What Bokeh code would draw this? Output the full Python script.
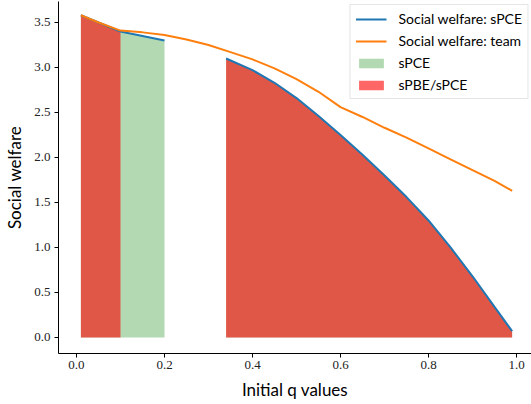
from bokeh.plotting import figure
from bokeh.models import Range1d, FixedTicker, PrintfTickFormatter, Legend, LegendItem
from bokeh.embed import file_html
from bokeh.resources import INLINE

# ---- data ----
q_team = [0.01, 0.05, 0.10, 0.15, 0.20, 0.25, 0.30, 0.35, 0.40, 0.45, 0.50,
          0.55, 0.60, 0.65, 0.70, 0.75, 0.80, 0.85, 0.90, 0.95, 0.99]
welfare_team = [3.58, 3.50, 3.41, 3.39, 3.36, 3.31, 3.25, 3.17, 3.09, 2.99, 2.87,
                2.73, 2.56, 2.45, 2.33, 2.22, 2.10, 1.98, 1.86, 1.74, 1.63]

q_spce_1 = [0.01, 0.05, 0.10, 0.15, 0.20]
welfare_spce_1 = [3.58, 3.50, 3.40, 3.35, 3.30]

q_spce_2 = [0.34, 0.40, 0.45, 0.50, 0.55, 0.60, 0.65, 0.70, 0.75, 0.80,
            0.85, 0.90, 0.95, 0.99]
welfare_spce_2 = [3.10, 2.97, 2.83, 2.66, 2.46, 2.25, 2.03, 1.80, 1.56, 1.30,
                  1.00, 0.68, 0.34, 0.07]

q_spbe_1 = [0.01, 0.05, 0.10]
welfare_spbe_1 = [3.58, 3.50, 3.40]
q_spbe_2 = q_spce_2
welfare_spbe_2 = welfare_spce_2

x_ticks = [0.0, 0.2, 0.4, 0.6, 0.8, 1.0]
y_ticks = [0.0, 0.5, 1.0, 1.5, 2.0, 2.5, 3.0, 3.5]

SANS = "Lato"
SERIF = "Liberation Serif"

p = figure(output_backend="svg", toolbar_location=None,
           frame_width=473, frame_height=352,
           min_border_left=58, min_border_right=0, min_border_top=1, min_border_bottom=50,
           x_range=Range1d(-0.0409, 1.034), y_range=Range1d(-0.178, 3.733),
           background_fill_color="white", border_fill_color="white")
p.outline_line_color = None
p.grid.visible = False

# fills
g1 = p.varea(x=q_spce_1, y1=[0] * len(q_spce_1), y2=welfare_spce_1,
             fill_color="green", fill_alpha=0.3)
g2 = p.varea(x=q_spce_2, y1=[0] * len(q_spce_2), y2=welfare_spce_2,
             fill_color="green", fill_alpha=0.3)
r1 = p.varea(x=q_spbe_1, y1=[0] * len(q_spbe_1), y2=welfare_spbe_1,
             fill_color="red", fill_alpha=0.6)
r2 = p.varea(x=q_spbe_2, y1=[0] * len(q_spbe_2), y2=welfare_spbe_2,
             fill_color="red", fill_alpha=0.6)

# lines
b1 = p.line(q_spce_1, welfare_spce_1, line_color="#1f77b4", line_width=2)
b2 = p.line(q_spce_2, welfare_spce_2, line_color="#1f77b4", line_width=2)
o1 = p.line(q_team, welfare_team, line_color="#ff7f0e", line_width=2)

# axes
for ax in (p.xaxis[0], p.yaxis[0]):
    ax.axis_line_color = "black"
    ax.axis_line_width = 1
    ax.major_tick_line_color = "black"
    ax.major_tick_out = 4
    ax.major_tick_in = 0
    ax.minor_tick_line_color = None
    ax.major_label_text_font = SERIF
    ax.major_label_text_font_size = "13px"
    ax.major_label_text_color = "#222222"
    ax.axis_label_text_font = SANS
    ax.axis_label_text_font_size = "17px"
    ax.axis_label_text_font_style = "normal"
    ax.axis_label_text_color = "black"
    ax.formatter = PrintfTickFormatter(format="%.1f")

p.xaxis[0].ticker = FixedTicker(ticks=x_ticks)
p.yaxis[0].ticker = FixedTicker(ticks=y_ticks)
p.xaxis[0].axis_label = "Initial q values"
p.yaxis[0].axis_label = "Social welfare"
p.xaxis[0].major_label_standoff = 3
p.xaxis[0].axis_label_standoff = 7
p.yaxis[0].major_label_standoff = 4
p.yaxis[0].axis_label_standoff = 6

legend = Legend(items=[
    LegendItem(label="Social welfare: sPCE", renderers=[b1]),
    LegendItem(label="Social welfare: team", renderers=[o1]),
    LegendItem(label="sPCE", renderers=[g1]),
    LegendItem(label="sPBE/sPCE", renderers=[r1]),
], location="top_right")
legend.margin = 3
legend.padding = 5
legend.spacing = 5
legend.label_height = 16
legend.glyph_height = 12
legend.glyph_width = 31
legend.label_standoff = 12
legend.label_text_font = SANS
legend.label_text_font_size = "14px"
legend.label_text_color = "black"
legend.border_line_color = "#cccccc"
legend.border_line_width = 1
legend.background_fill_color = "white"
legend.background_fill_alpha = 0.8
p.add_layout(legend, "center")

open("out.html", "w").write(file_html(p, INLINE))
